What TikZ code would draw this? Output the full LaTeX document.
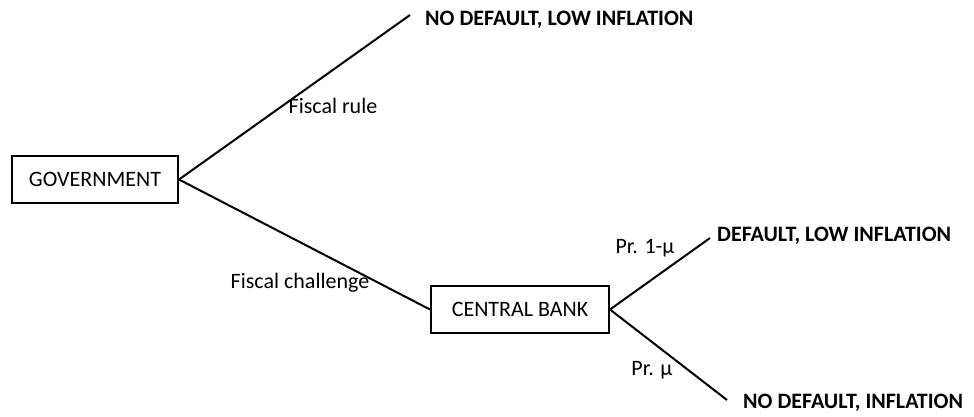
\documentclass[tikz,border=0pt]{standalone}
\usepackage{fontspec}
\setmainfont{Carlito}
\begin{document}
\begin{tikzpicture}[x=1pt,y=-1pt,
  fnt/.style={font=\fontsize{22}{26}\selectfont},
  box/.style={draw, line width=2pt, fnt, minimum height=47pt, inner sep=0pt},
  lbl/.style={fnt, inner sep=0pt},
  outc/.style={font=\fontsize{22}{26}\selectfont\bfseries, inner sep=0pt, anchor=west},
  branch/.style={line width=2pt}]
\useasboundingbox (0,0) rectangle (974,416);
\node[box, minimum width=166pt] (gov) at (95,179.5) {GOVERNMENT};
\node[box, minimum width=178pt] (cb) at (520,309.5) {CENTRAL BANK};
\coordinate (e1) at (410,15);
\coordinate (e2) at (710,238);
\coordinate (e3) at (727,400);
\node[outc] (o1) at (425,20) {NO DEFAULT, LOW INFLATION};
\node[outc] (o2) at (717,236) {DEFAULT, LOW INFLATION};
\node[outc] (o3) at (743,403) {NO DEFAULT, INFLATION};
\draw[branch] (gov.east) -- (e1);
\draw[branch] (gov.east) -- (cb.west);
\draw[branch] (cb.east) -- (e2);
\draw[branch] (cb.east) -- (e3);
\node[lbl] (l1) at (333,106) {Fiscal rule};
\node[lbl] (l2) at (300,283) {Fiscal challenge};
\node[lbl] (l3) at (645,248) {Pr. 1-μ};
\node[lbl] (l4) at (652,370) {Pr. μ};
\end{tikzpicture}
\end{document}
